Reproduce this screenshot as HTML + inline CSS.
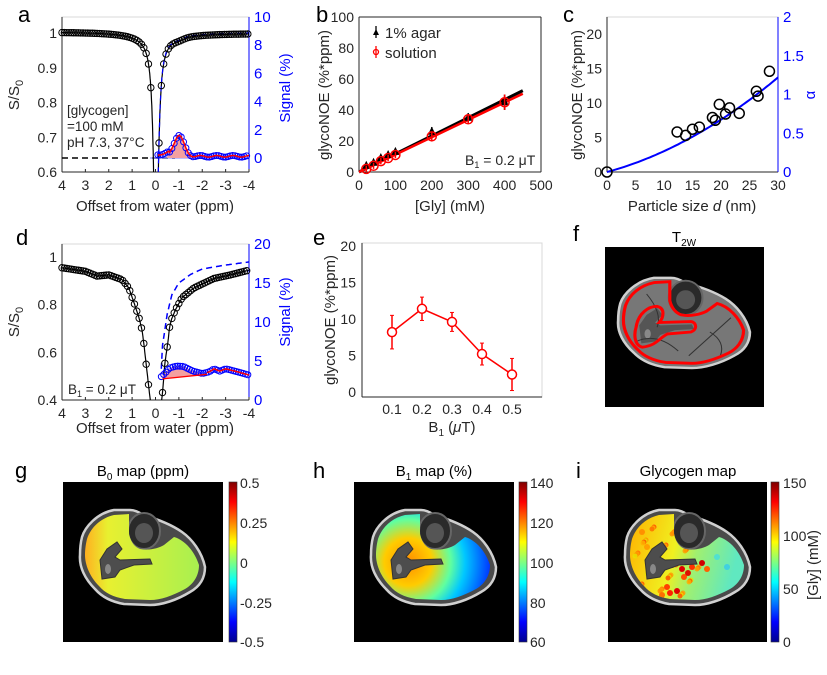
<!DOCTYPE html>
<html><head><meta charset="utf-8"><style>
html,body{margin:0;padding:0;background:#fff;}
svg{display:block;font-family:"Liberation Sans",sans-serif;}
.t{font-size:13px;fill:#262626;}
.l{font-size:15px;fill:#262626;}
.p{font-size:22px;fill:#000;}
</style></head><body>
<svg id="s" width="827" height="675" viewBox="0 0 827 675" xmlns="http://www.w3.org/2000/svg">
<defs>
<linearGradient id="jet" x1="0" y1="1" x2="0" y2="0">
<stop offset="0" stop-color="#00008f"/><stop offset="0.125" stop-color="#0000ff"/><stop offset="0.375" stop-color="#00ffff"/><stop offset="0.5" stop-color="#80ff80"/><stop offset="0.625" stop-color="#ffff00"/><stop offset="0.875" stop-color="#ff0000"/><stop offset="1" stop-color="#800000"/>
</linearGradient>
<radialGradient id="b1g" cx="40" cy="55" r="95" gradientUnits="userSpaceOnUse">
<stop offset="0" stop-color="#ff8c00"/><stop offset="0.25" stop-color="#ffcc00"/><stop offset="0.45" stop-color="#60ffa0"/><stop offset="0.6" stop-color="#00c8ff"/><stop offset="0.85" stop-color="#0040ff"/><stop offset="1" stop-color="#0000c0"/>
</radialGradient>
<linearGradient id="b0g" x1="0" y1="0" x2="1" y2="0">
<stop offset="0" stop-color="#ffb020"/><stop offset="0.2" stop-color="#e8f030"/><stop offset="1" stop-color="#a8f050"/>
</linearGradient>
<linearGradient id="glg" x1="0" y1="0" x2="1" y2="0.2">
<stop offset="0" stop-color="#ffb000"/><stop offset="0.45" stop-color="#f0f020"/><stop offset="0.65" stop-color="#a0f070"/><stop offset="1" stop-color="#60e8c0"/>
</linearGradient>
<path id="outer" d="M5,30 C8,20 20,6 37,3 L53,3 C58,3 62,5 66,8 C80,12 95,18 105,25 C115,32 125,45 128,60 C128,72 122,80 113,85 C100,93 85,98 73,98 L47,97 C35,95 25,90 18,82 C8,72 2,60 3,48 C3,40 4,34 5,30 Z"/>
<path id="inner" d="M10,32 C14,20 24,11 37,8 L52,7 L52,27 C54,36 58,40 63,42 C72,44 82,41 87,38 L97,30 C108,33 118,45 122,58 C122,70 115,78 108,82 C95,89 84,93 73,93 L48,92 C36,90 28,86 22,79 C13,70 8,58 8,48 C8,42 9,36 10,32 Z"/>
<path id="tib" d="M23,53 L30,42 L40,35 L45,42 L38,50 L43,53 L73,52 L75,57 L57,58 L43,63 L38,70 L25,72 Z"/>
<clipPath id="innerclip"><use href="#inner"/></clipPath>
</defs>
<g id="root"></g>

<text class="p" x="18" y="22">a</text>
<text class="p" x="316" y="22">b</text>
<text class="p" x="563" y="22">c</text>
<text class="p" x="16" y="245">d</text>
<text class="p" x="313" y="245">e</text>
<text class="p" x="573" y="241">f</text>
<text class="p" x="15" y="478">g</text>
<text class="p" x="313" y="478">h</text>
<text class="p" x="576" y="478">i</text>

<text class="l" x="155" y="211" text-anchor="middle">Offset from water (ppm)</text>
<text class="l" transform="translate(19,95) rotate(-90)" text-anchor="middle">S/S<tspan font-size="11" dy="4">0</tspan></text>
<text class="l" transform="translate(290,88) rotate(-90)" text-anchor="middle" style="fill:#0000ff">Signal (%)</text>
<text class="t" x="67" y="115" style="font-size:13.5px">[glycogen]</text>
<text class="t" x="67" y="131" style="font-size:13.5px">=100 mM</text>
<text class="t" x="67" y="147" style="font-size:13.5px">pH 7.3, 37°C</text>

<text class="l" x="155" y="433" text-anchor="middle">Offset from water (ppm)</text>
<text class="l" transform="translate(19,322) rotate(-90)" text-anchor="middle">S/S<tspan font-size="11" dy="4">0</tspan></text>
<text class="l" transform="translate(290,312) rotate(-90)" text-anchor="middle" style="fill:#0000ff">Signal (%)</text>
<text class="t" x="68" y="394" style="font-size:13.5px">B<tspan font-size="9" dy="3">1</tspan><tspan dy="-3"> = 0.2 μT</tspan></text>

<text class="l" x="450" y="211" text-anchor="middle">[Gly] (mM)</text>
<text class="l" transform="translate(329,95) rotate(-90)" text-anchor="middle">glycoNOE (%*ppm)</text>
<text class="l" x="385" y="38">1% agar</text>
<text class="l" x="385" y="58">solution</text>
<text class="t" x="465" y="165" style="font-size:14px">B<tspan font-size="9" dy="3">1</tspan><tspan dy="-3"> = 0.2 μT</tspan></text>

<text class="l" x="692" y="211" text-anchor="middle">Particle size <tspan font-style="italic">d</tspan> (nm)</text>
<text class="l" transform="translate(582,95) rotate(-90)" text-anchor="middle">glycoNOE (%*ppm)</text>
<text class="l" transform="translate(815,95) rotate(-90)" text-anchor="middle" style="fill:#0000ff">α</text>

<text class="l" x="452" y="432" text-anchor="middle">B<tspan font-size="10" dy="4">1</tspan><tspan dy="-4"> (</tspan><tspan font-style="italic">μ</tspan>T)</text>
<text class="l" transform="translate(335,320) rotate(-90)" text-anchor="middle">glycoNOE (%*ppm)</text>

<text class="l" x="684" y="242" text-anchor="middle" style="fill:#000">T<tspan font-size="10" dy="4">2W</tspan></text>
<text class="l" x="143" y="476" text-anchor="middle" style="fill:#000">B<tspan font-size="10" dy="4">0</tspan><tspan dy="-4"> map (ppm)</tspan></text>
<text class="l" x="434" y="476" text-anchor="middle" style="fill:#000">B<tspan font-size="10" dy="4">1</tspan><tspan dy="-4"> map (%)</tspan></text>
<text class="l" x="688" y="476" text-anchor="middle" style="fill:#000">Glycogen map</text>

<g class="t" style="font-size:14px">
<text x="240" y="488">0.5</text><text x="240" y="528">0.25</text><text x="240" y="568">0</text><text x="240" y="608">-0.25</text><text x="240" y="647">-0.5</text>
<text x="530" y="488">140</text><text x="530" y="528">120</text><text x="530" y="568">100</text><text x="530" y="608">80</text><text x="530" y="647">60</text>
<text x="783" y="488">150</text><text x="783" y="541">100</text><text x="783" y="594">50</text><text x="783" y="647">0</text>
</g>
<text class="l" transform="translate(818,565) rotate(-90)" text-anchor="middle">[Gly] (mM)</text>
</svg>
<script>
var R=document.getElementById('root'),NS='http://www.w3.org/2000/svg';
function el(t,a,p){var e=document.createElementNS(NS,t);for(var k in a)e.setAttribute(k,a[k]);(p||R).appendChild(e);return e;}
function txt(x,y,s,anchor,col,size){var e=el('text',{x:x,y:y,'text-anchor':anchor||'middle','font-size':size||14,fill:col||'#262626'});e.textContent=s;return e;}
function poly(pts,a){return el('polyline',Object.assign({points:pts.map(function(p){return p[0].toFixed(1)+','+p[1].toFixed(1)}).join(' '),fill:'none'},a));}
function box(x0,y0,x1,y1,right){el('rect',{x:x0,y:y0,width:x1-x0,height:y1-y0,fill:'none',stroke:'#d8d8d8','stroke-width':1});
 el('line',{x1:x0,y1:y0,x2:x0,y2:y1,stroke:'#262626'});el('line',{x1:x0,y1:y1,x2:x1,y2:y1,stroke:'#262626'});
 if(right)el('line',{x1:x1,y1:y0,x2:x1,y2:y1,stroke:'#0000ff'});}
function circ(x,y,r,c,w){el('circle',{cx:x,cy:y,r:r,fill:'none',stroke:c,'stroke-width':w||1});}

(function(){
 var X=function(p){return 62+(4-p)*23.375},YL=function(s){return 172-(s-0.6)*347.5},YR=function(v){return 158-v*14.1};
 box(62,17,249,172,true);
 [4,3,2,1,0,-1,-2,-3,-4].forEach(function(p){txt(X(p),190,String(p));el('line',{x1:X(p),y1:172,x2:X(p),y2:169,stroke:'#262626'});});
 [0.6,0.7,0.8,0.9,1].forEach(function(s){txt(57,YL(s)+5,s===1?'1':s.toFixed(1),'end');});
 [0,2,4,6,8,10].forEach(function(v){txt(254,YR(v)+5,String(v),'start','#0000ff',15);});
 function z(p){var x=p+0.02;return 1.003-0.71*0.0122/(x*x+0.0122)-0.018/(1+x*x/1.2)+(p<0?-0.004:0)-(p<-0.4?0.004*Math.exp(-Math.pow((p+1)/0.3,2)):0);}
 el('line',{x1:62,y1:158,x2:175,y2:158,stroke:'#000','stroke-dasharray':'6,4','stroke-width':1.5});
 el('line',{x1:150,y1:158,x2:249,y2:158,stroke:'#8080ff','stroke-width':1});
 el('clipPath',{id:'ca'}).appendChild(el('rect',{x:62,y:17,width:187,height:155}));
 var g=el('g',{'clip-path':'url(#ca)'});
 var pts=[];for(var p=4;p>=0.02;p-=0.01)pts.push([X(p),Math.min(180,YL(z(p)))]);
 g.appendChild(poly(pts,{stroke:'#000','stroke-width':1.2}));
 pts=[];for(p=-0.03;p>=-4;p-=0.01)pts.push([X(p),Math.min(180,YL(z(p)))]);g.appendChild(poly(pts,{stroke:'#000','stroke-width':1.2}));
 var bd=[];for(p=-0.05;p>=-4;p-=0.02){bd.push([X(p),Math.min(180,YL(z(p)+0.003))]);}
 g.appendChild(poly(bd,{stroke:'#0000ff','stroke-width':1.2,'stroke-dasharray':'5,4'}));
 for(p=4;p>0.15;p-=0.1)circ(X(p),YL(z(p)),3.2,'#000');
 for(p=-0.15;p>=-4;p-=0.1){var y=YL(z(p));if(y<175)circ(X(p),y,3.2,'#000');}
 function sg(p){return 0.12+1.5*Math.exp(-Math.pow((p+1.0)/0.3,2))+(p>-0.6?0.15:0)+0.06*Math.sin(p*9);}
 var f=[[X(-0.5),YR(0)]];for(p=-0.5;p>=-1.55;p-=0.05)f.push([X(p),YR(sg(p))]);f.push([X(-1.55),YR(0)]);
 el('polygon',{points:f.map(function(q){return q.join(',')}).join(' '),fill:'#f4a0a0'});
 var rl=[];for(p=-0.1;p>=-4;p-=0.05)rl.push([X(p),YR(sg(p))]);
 for(p=-0.1;p>=-4;p-=0.1)circ(X(p),YR(sg(p)),3,'#0000ff');
 poly(rl,{stroke:'#ff0000','stroke-width':1.5});
})();

(function(){
 var X=function(p){return 62+(4-p)*23.375},YL=function(s){return 400-(s-0.4)*238.3},YR=function(v){return 400-v*7.8};
 box(62,244,249,400,true);
 [4,3,2,1,0,-1,-2,-3,-4].forEach(function(p){txt(X(p),418,String(p));el('line',{x1:X(p),y1:400,x2:X(p),y2:397,stroke:'#262626'});});
 [0.4,0.6,0.8,1].forEach(function(s){txt(57,YL(s)+5,s===1?'1':s.toFixed(1),'end');});
 [0,5,10,15,20].forEach(function(v){txt(254,YR(v)+5,String(v),'start','#0000ff',15);});
 var L=[[0.1,0.3],[0.26,0.43],[0.4,0.55],[0.49,0.63],[0.57,0.69],[0.69,0.74],[0.89,0.80],[1.14,0.87],[1.43,0.905],[2,0.925],[2.5,0.92],[3,0.94],[4,0.955]];
 var Rt=[[0.15,0.3],[0.31,0.44],[0.4,0.554],[0.54,0.65],[0.6,0.705],[0.69,0.74],[0.86,0.78],[1.14,0.83],[1.64,0.87],[2.5,0.91],[3.2,0.925],[4,0.945]];
 function it(t,a){for(var i=1;i<t.length;i++)if(a<=t[i][0]){var u=(a-t[i-1][0])/(t[i][0]-t[i-1][0]);return t[i-1][1]+u*(t[i][1]-t[i-1][1]);}return t[t.length-1][1];}
 el('clipPath',{id:'cd'}).appendChild(el('rect',{x:62,y:244,width:187,height:156}));
 var g=el('g',{'clip-path':'url(#cd)'});
 var pts=[];for(var p=4;p>=0.1;p-=0.02)pts.push([X(p),YL(it(L,p))]);g.appendChild(poly(pts,{stroke:'#000','stroke-width':1.2}));
 pts=[];for(p=-0.15;p>=-4;p-=0.02)pts.push([X(p),YL(it(Rt,-p))]);g.appendChild(poly(pts,{stroke:'#000','stroke-width':1.2}));
 var D=[[0.25,4],[0.3,7],[0.5,11],[0.7,13.5],[1,15],[1.5,16.1],[2,16.8],[3,17.3],[4,17.7]];
 pts=[];for(p=-0.25;p>=-4;p-=0.05)pts.push([X(p),YR(it(D,-p))]);g.appendChild(poly(pts,{stroke:'#0000ff','stroke-width':1.5,'stroke-dasharray':'6,4'}));
 for(p=4;p>0.2;p-=0.1)circ(X(p),YL(it(L,p)),3.2,'#000');
 for(p=-0.3;p>=-4;p-=0.1)circ(X(p),YL(it(Rt,-p)),3.2,'#000');
 var S=[[0.25,3.0],[0.4,3.4],[0.6,4.1],[0.9,4.35],[1.2,4.3],[1.6,3.7],[2,3.4],[2.3,3.6],[2.5,4.0],[2.75,3.7],[3,4.0],[3.4,3.7],[4,3.2]];
 var f=[];for(p=0.3;p<=2.2;p+=0.05)f.push([X(-p),YR(it(S,p))]);f.push([X(-2.2),YR(3.27)]);f.push([X(-0.3),YR(2.7)]);
 el('polygon',{points:f.map(function(q){return q.join(',')}).join(' '),fill:'#f4a0a0'});
 for(p=0.25;p<=4;p+=0.1)circ(X(-p),YR(it(S,p)),3,'#0000ff');
 poly([[X(-0.3),YR(2.7)],[X(-2.2),YR(3.3)]],{stroke:'#ff0000','stroke-width':1.3});
 pts=[];for(p=2.2;p<=4;p+=0.05)pts.push([X(-p),YR(it(S,p))]);poly(pts,{stroke:'#ff0000','stroke-width':1.5});
})();

(function(){
 var X=function(g){return 359+g*0.364},Y=function(v){return 172-v*1.55};
 box(359,17,541,172,false);
 el('line',{x1:541,y1:17,x2:541,y2:172,stroke:'#262626'});el('line',{x1:359,y1:17,x2:541,y2:17,stroke:'#262626'});
 [0,100,200,300,400,500].forEach(function(g){txt(X(g),190,String(g));});
 [0,20,40,60,80,100].forEach(function(v){txt(354,Y(v)+5,String(v),'end');});
 el('line',{x1:X(0),y1:Y(0),x2:X(450),y2:Y(52.5),stroke:'#000','stroke-width':3});
 el('line',{x1:X(0),y1:Y(0),x2:X(450),y2:Y(50.5),stroke:'#ff0000','stroke-width':2.5});
 var G=[20,40,60,80,100,200,300,400],A=[4,6,9,11,13,26,35,45],Sv=[2,4,7,9,11,23,34,45],E=[2,2,2,2,2,3,3,5];
 G.forEach(function(g,i){var x=X(g);
  el('line',{x1:x,y1:Y(A[i]-E[i]),x2:x,y2:Y(A[i]+E[i]),stroke:'#000','stroke-width':1.5});
  el('polygon',{points:(x-4)+','+(Y(A[i])+3)+' '+(x+4)+','+(Y(A[i])+3)+' '+x+','+(Y(A[i])-5),fill:'#000'});
  el('line',{x1:x,y1:Y(Sv[i]-E[i]),x2:x,y2:Y(Sv[i]+E[i]),stroke:'#ff0000','stroke-width':1.5});
  circ(x,Y(Sv[i]),4.5,'#ff0000',1.5);});
 var x=376; el('line',{x1:x,y1:26,x2:x,y2:38,stroke:'#000','stroke-width':1.3});el('polygon',{points:'373,35 379,35 376,29',fill:'#000'});
 el('line',{x1:x,y1:46,x2:x,y2:58,stroke:'#ff0000','stroke-width':1.3});circ(x,52,2.5,'#ff0000',1.3);
})();

(function(){
 var X=function(d){return 607+d*5.7},YL=function(v){return 172-v*6.9},YR=function(a){return 172-a*77.5};
 box(607,17,778,172,true);
 [0,5,10,15,20,25,30].forEach(function(d){txt(X(d),190,String(d));});
 [0,5,10,15,20].forEach(function(v){txt(602,YL(v)+5,String(v),'end');});
 [[0,'0'],[0.5,'0.5'],[1,'1'],[1.5,'1.5'],[2,'2']].forEach(function(a){txt(783,YR(a[0])+5,a[1],'start','#0000ff',15);});
 var pts=[];for(var d=0;d<=30;d+=0.5)pts.push([X(d),YR(0.02*d+0.000689*d*d)]);poly(pts,{stroke:'#0000ff','stroke-width':2});
 [[0,0],[12.3,5.8],[13.8,5.3],[15,6.2],[16.2,6.5],[18.5,7.9],[19,7.5],[19.7,9.8],[20.8,8.4],[21.5,9.3],[23.2,8.5],[26.2,11.7],[26.5,11.0],[28.5,14.6]].forEach(function(q){circ(X(q[0]),YL(q[1]),5,'#000',1.5);});
})();

(function(){
 var X=function(b){return 362+b*300},Y=function(v){return 392-v*7.3};
 box(362,243,542,397,false);
 [0.1,0.2,0.3,0.4,0.5].forEach(function(b){txt(X(b),414,b.toFixed(1));});
 [0,5,10,15,20].forEach(function(v){txt(356,Y(v)+5,String(v),'end');});
 var D=[[0.1,8.2,2.3],[0.2,11.4,1.6],[0.3,9.6,1.3],[0.4,5.2,1.5],[0.5,2.4,2.2]];
 poly(D.map(function(q){return [X(q[0]),Y(q[1])]}),{stroke:'#ff0000','stroke-width':1.5});
 D.forEach(function(q){var x=X(q[0]);el('line',{x1:x,y1:Y(q[1]-q[2]),x2:x,y2:Y(q[1]+q[2]),stroke:'#ff0000','stroke-width':1.5});
  el('line',{x1:x-2,y1:Y(q[1]-q[2]),x2:x+2,y2:Y(q[1]-q[2]),stroke:'#ff0000'});el('line',{x1:x-2,y1:Y(q[1]+q[2]),x2:x+2,y2:Y(q[1]+q[2]),stroke:'#ff0000'});
  el('circle',{cx:x,cy:Y(q[1]),r:4.5,fill:'#fff',stroke:'#ff0000','stroke-width':1.5});});
})();

function leg(tx,ty,sx,sy,fill,mode){
 var g=el('g',{transform:'translate('+tx+','+ty+') scale('+sx+','+sy+')'});
 el('use',{href:'#outer',fill:mode==='f'?'#777':'#4a4a4a',stroke:'#d0d0d0','stroke-width':2.5},g);
 el('ellipse',{cx:67,cy:24,rx:16,ry:18,fill:'#2a2a2a',stroke:'#666','stroke-width':2},g);
 el('ellipse',{cx:67,cy:26,rx:9,ry:10,fill:'#555'},g);
 if(mode!=='f')el('use',{href:'#inner',fill:fill},g);
 if(mode==='i'){
  var cg=el('g',{'clip-path':'url(#innerclip)'},g);
  var cols=['#ff9000','#ffa000','#ff7000','#ffb000','#ff5000','#e8e000'];
  for(var i=0;i<60;i++){var x=12+((i*37)%70),y=15+((i*53)%75);el('circle',{cx:x,cy:y,r:2.5,fill:cols[i%cols.length],opacity:0.85},cg);}
  [[60,62,'#e00000'],[70,60,'#ff3000'],[80,56,'#d00000'],[45,80,'#ff4000'],[55,84,'#e00000'],[30,60,'#ff8000'],[25,40,'#ffa000'],[85,62,'#ff6000'],[62,70,'#ff5000'],[95,50,'#50e0d0'],[105,60,'#40d0e0'],[40,88,'#ff7000'],[20,25,'#ff9000'],[50,58,'#cc0000'],[66,66,'#dd1000'],[48,86,'#ff2000']].forEach(function(q){el('circle',{cx:q[0],cy:q[1],r:3,fill:q[2]},cg);});}
 el('use',{href:'#tib',fill:mode==='f'?'#555':'#4d4d4d',stroke:mode==='f'?'none':'#333'},g);
 el('ellipse',{cx:31,cy:62,rx:3,ry:5,fill:'#888'},g);
 if(mode==='f'){
  ['M20,70 Q40,60 60,80','M30,20 Q45,40 40,55','M90,60 Q105,70 100,85','M70,85 Q85,70 110,45'].forEach(function(d){el('path',{d:d,stroke:'#333',fill:'none','stroke-width':1},g);});
  el('use',{href:'#inner',fill:'none',stroke:'#ff0000','stroke-width':3},g);
  el('path',{d:'M20,55 C22,40 32,33 40,33 C48,35 46,45 42,50 L72,49 C78,50 78,58 72,60 L50,62 C42,66 40,74 26,76 C18,74 18,62 20,55 Z',fill:'none',stroke:'#ff0000','stroke-width':3},g);
 }
}
el('rect',{x:605,y:247,width:159,height:160,fill:'#000'});
leg(615,275,137/130,0.95,null,'f');
el('rect',{x:63,y:482,width:160,height:160,fill:'#000'});leg(77,507,1,1,'url(#b0g)','g');
el('rect',{x:354,y:482,width:160,height:160,fill:'#000'});leg(368,507,1,1,'url(#b1g)','h');
el('rect',{x:608,y:482,width:159,height:160,fill:'#000'});leg(622,507,1,1,'url(#glg)','i');
[[229,482],[519,482],[771,482]].forEach(function(c){el('rect',{x:c[0],y:c[1],width:8,height:160,fill:'url(#jet)',stroke:'#333','stroke-width':0.6});});
</script>
</body></html>
